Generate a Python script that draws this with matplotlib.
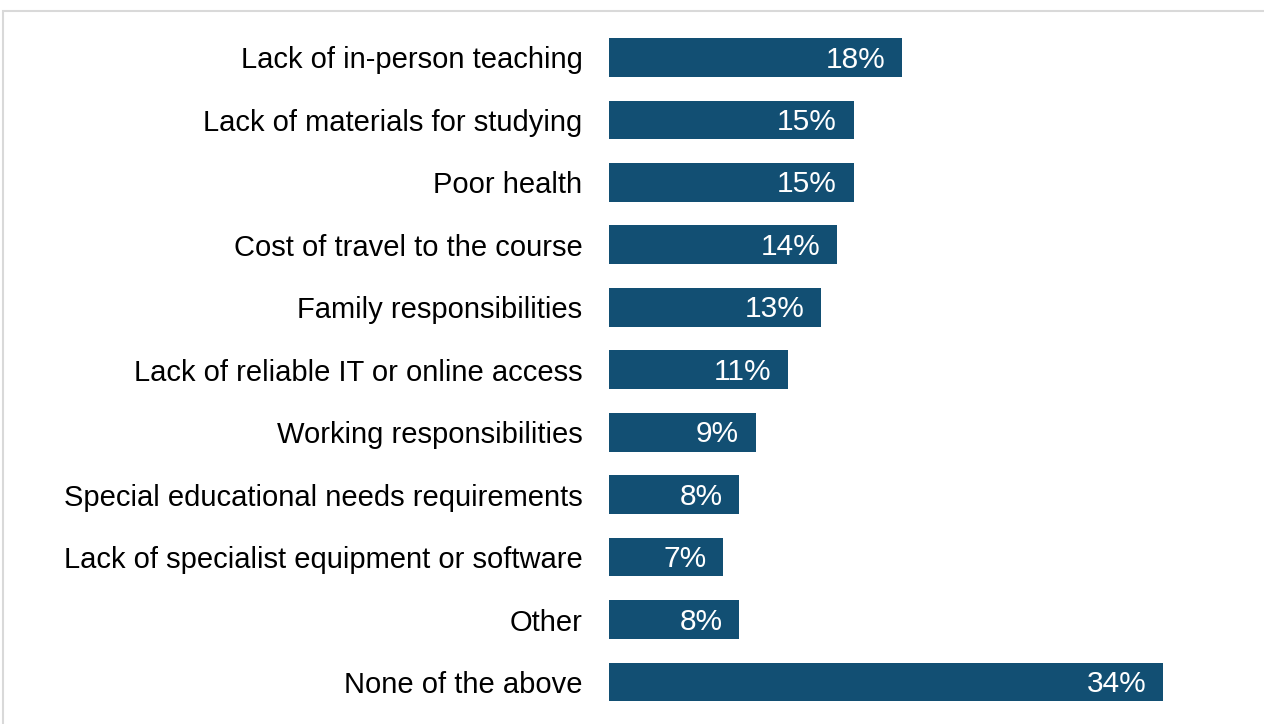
import matplotlib.pyplot as plt
from matplotlib.patches import Rectangle

plt.rcParams['font.family'] = ['Liberation Sans', 'DejaVu Sans']

categories = [
    "Lack of in-person teaching",
    "Lack of materials for studying",
    "Poor health",
    "Cost of travel to the course",
    "Family responsibilities",
    "Lack of reliable IT or online access",
    "Working responsibilities",
    "Special educational needs requirements",
    "Lack of specialist equipment or software",
    "Other",
    "None of the above",
]
values = [18, 15, 15, 14, 13, 11, 9, 8, 7, 8, 34]

bar_color = '#124f73'

fig = plt.figure(figsize=(12.64, 7.24), dpi=100)
W, H = 1264, 724

# thin grey frame around the chart area (runs off the right and bottom)
fig.patches.append(Rectangle((3 / W, -0.2), 1.2, 1.2 - 11 / H, transform=fig.transFigure,
                             fill=False, edgecolor='#d9d9d9', linewidth=1.5))

ax = fig.add_axes([609 / W, 10.8 / H, 652 / W, 687 / H])
ypos = list(range(len(categories)))
ax.barh(ypos, values, height=0.62, color=bar_color)
ax.set_xlim(0, 40)
ax.set_ylim(len(categories) - 0.5, -0.5)

for y, v in zip(ypos, values):
    ax.annotate(f"{v}%", xy=(v, y), xytext=(-12, -1.5), textcoords='offset points',
                ha='right', va='center', color='white', fontsize=21.5)

ax.set_yticks(ypos)
ax.set_yticklabels(categories, fontsize=21)
ax.tick_params(axis='y', length=0, pad=19)
ax.set_xticks([])
for s in ax.spines.values():
    s.set_visible(False)

fig.savefig('out.png', dpi=100)
